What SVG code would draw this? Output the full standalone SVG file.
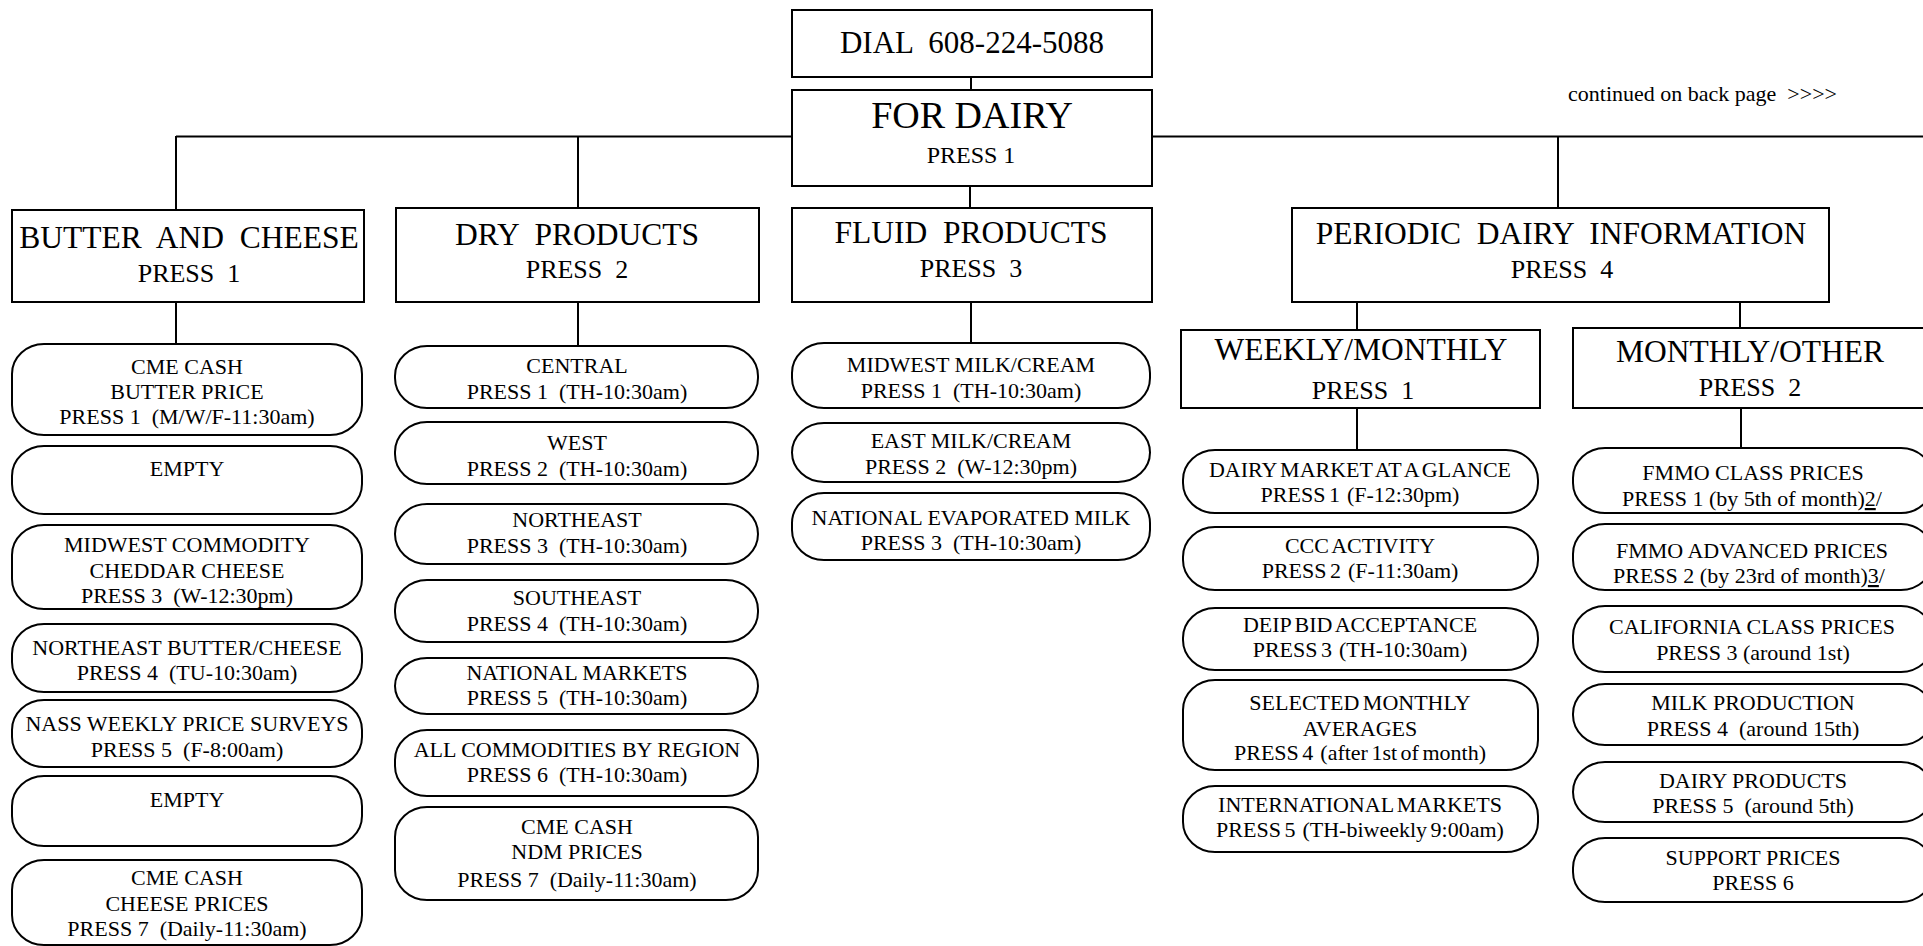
<svg xmlns="http://www.w3.org/2000/svg" width="1923" height="946" viewBox="0 0 1923 946">
<style>
text{font-family:"Liberation Serif","Times New Roman",serif;fill:#000;white-space:pre;text-anchor:middle}
.box{fill:#fff;stroke:#000;stroke-width:2}
.pill{fill:#fff;stroke:#000;stroke-width:2}
.h{font-size:31.5px}
.hs{font-size:26px}
.t{font-size:22px}
.wk{word-spacing:-2px}
#connectors line{stroke:#000;stroke-width:2}
</style>
<rect x="0" y="0" width="1923" height="946" fill="#fff"/>
<g id="connectors">
<line x1="971" y1="77" x2="971" y2="90"/>
<line x1="970" y1="186" x2="970" y2="208"/>
<line x1="176" y1="136.5" x2="792" y2="136.5"/>
<line x1="1152" y1="136.5" x2="1923" y2="136.5"/>
<line x1="176" y1="136" x2="176" y2="210"/>
<line x1="578" y1="136" x2="578" y2="208"/>
<line x1="1558" y1="136" x2="1558" y2="208"/>
<line x1="176" y1="302" x2="176" y2="344"/>
<line x1="578" y1="302" x2="578" y2="346"/>
<line x1="971" y1="302" x2="971" y2="343"/>
<line x1="1357" y1="302" x2="1357" y2="330"/>
<line x1="1740" y1="302" x2="1740" y2="328"/>
<line x1="1357" y1="408" x2="1357" y2="450"/>
<line x1="1741" y1="408" x2="1741" y2="448"/>
</g>
<g id="dial">
<rect class="box" x="792" y="10" width="360" height="67"/>
<text x="972" y="53" style="font-size:31px">DIAL  608-224-5088</text>
</g>
<g id="for-dairy">
<rect class="box" x="792" y="90" width="360" height="96"/>
<text x="972" y="128" style="font-size:38px">FOR DAIRY</text>
<text x="971" y="163" style="font-size:24px">PRESS 1</text>
</g>
<g id="continued">
<text x="1568" y="101" style="font-size:22px;text-anchor:start">continued on back page  &gt;&gt;&gt;&gt;</text>
</g>
<g id="butter-cheese">
<rect class="box" x="12" y="210" width="352" height="92"/>
<text class="h" x="189" y="248">BUTTER  AND  CHEESE</text>
<text class="hs" x="189" y="282">PRESS  1</text>
</g>
<g id="dry-products">
<rect class="box" x="396" y="208" width="363" height="94"/>
<text class="h" x="577" y="245">DRY  PRODUCTS</text>
<text class="hs" x="577" y="278">PRESS  2</text>
</g>
<g id="fluid-products">
<rect class="box" x="792" y="208" width="360" height="94"/>
<text class="h" x="971" y="243">FLUID  PRODUCTS</text>
<text class="hs" x="971" y="277">PRESS  3</text>
</g>
<g id="periodic">
<rect class="box" x="1292" y="208" width="537" height="94"/>
<text class="h" x="1561" y="244">PERIODIC  DAIRY  INFORMATION</text>
<text class="hs" x="1562" y="278">PRESS  4</text>
</g>
<g id="weekly-monthly">
<rect class="box" x="1181" y="330" width="359" height="78"/>
<text class="h" x="1361" y="360">WEEKLY/MONTHLY</text>
<text class="hs" x="1363" y="399">PRESS  1</text>
</g>
<g id="monthly-other">
<rect class="box" x="1573" y="328" width="353" height="80"/>
<text class="h" x="1750" y="362">MONTHLY/OTHER</text>
<text class="hs" x="1750" y="396">PRESS  2</text>
</g>

<g id="b1"><rect class="pill" x="12" y="344" width="350" height="91" rx="32" ry="30"/>
<text class="t" x="187" y="374">CME CASH</text><text class="t" x="187" y="399">BUTTER PRICE</text><text class="t" x="187" y="424">PRESS 1  (M/W/F-11:30am)</text></g>
<g id="b2"><rect class="pill" x="12" y="446" width="350" height="68" rx="32" ry="30"/>
<text class="t" x="187" y="476">EMPTY</text></g>
<g id="b3"><rect class="pill" x="12" y="525" width="350" height="84" rx="32" ry="30"/>
<text class="t" x="187" y="552">MIDWEST COMMODITY</text><text class="t" x="187" y="578">CHEDDAR CHEESE</text><text class="t" x="187" y="603">PRESS 3  (W-12:30pm)</text></g>
<g id="b4"><rect class="pill" x="12" y="624" width="350" height="68" rx="32" ry="30"/>
<text class="t" x="187" y="655">NORTHEAST BUTTER/CHEESE</text><text class="t" x="187" y="680">PRESS 4  (TU-10:30am)</text></g>
<g id="b5"><rect class="pill" x="12" y="700" width="350" height="67" rx="32" ry="30"/>
<text class="t" x="187" y="731">NASS WEEKLY PRICE SURVEYS</text><text class="t" x="187" y="757">PRESS 5  (F-8:00am)</text></g>
<g id="b6"><rect class="pill" x="12" y="776" width="350" height="70" rx="32" ry="30"/>
<text class="t" x="187" y="807">EMPTY</text></g>
<g id="b7"><rect class="pill" x="12" y="860" width="350" height="85" rx="32" ry="30"/>
<text class="t" x="187" y="885">CME CASH</text><text class="t" x="187" y="911">CHEESE PRICES</text><text class="t" x="187" y="936">PRESS 7  (Daily-11:30am)</text></g>

<g id="d1"><rect class="pill" x="395" y="346" width="363" height="62" rx="32" ry="30"/>
<text class="t" x="577" y="373">CENTRAL</text><text class="t" x="577" y="399">PRESS 1  (TH-10:30am)</text></g>
<g id="d2"><rect class="pill" x="395" y="422" width="363" height="62" rx="32" ry="30"/>
<text class="t" x="577" y="450">WEST</text><text class="t" x="577" y="476">PRESS 2  (TH-10:30am)</text></g>
<g id="d3"><rect class="pill" x="395" y="504" width="363" height="60" rx="32" ry="30"/>
<text class="t" x="577" y="527">NORTHEAST</text><text class="t" x="577" y="553">PRESS 3  (TH-10:30am)</text></g>
<g id="d4"><rect class="pill" x="395" y="580" width="363" height="62" rx="32" ry="30"/>
<text class="t" x="577" y="605">SOUTHEAST</text><text class="t" x="577" y="631">PRESS 4  (TH-10:30am)</text></g>
<g id="d5"><rect class="pill" x="395" y="658" width="363" height="56" rx="32" ry="28"/>
<text class="t" x="577" y="680">NATIONAL MARKETS</text><text class="t" x="577" y="705">PRESS 5  (TH-10:30am)</text></g>
<g id="d6"><rect class="pill" x="395" y="730" width="363" height="66" rx="32" ry="30"/>
<text class="t" x="577" y="757">ALL COMMODITIES BY REGION</text><text class="t" x="577" y="782">PRESS 6  (TH-10:30am)</text></g>
<g id="d7"><rect class="pill" x="395" y="807" width="363" height="93" rx="32" ry="30"/>
<text class="t" x="577" y="834">CME CASH</text><text class="t" x="577" y="859">NDM PRICES</text><text class="t" x="577" y="887">PRESS 7  (Daily-11:30am)</text></g>

<g id="f1"><rect class="pill" x="792" y="343" width="358" height="65" rx="32" ry="30"/>
<text class="t" x="971" y="372">MIDWEST MILK/CREAM</text><text class="t" x="971" y="398">PRESS 1  (TH-10:30am)</text></g>
<g id="f2"><rect class="pill" x="792" y="423" width="358" height="59" rx="32" ry="29.5"/>
<text class="t" x="971" y="448">EAST MILK/CREAM</text><text class="t" x="971" y="474">PRESS 2  (W-12:30pm)</text></g>
<g id="f3"><rect class="pill" x="792" y="493" width="358" height="67" rx="32" ry="30"/>
<text class="t" x="971" y="525">NATIONAL EVAPORATED MILK</text><text class="t" x="971" y="550">PRESS 3  (TH-10:30am)</text></g>

<g id="w1"><rect class="pill" x="1183" y="450" width="355" height="63" rx="32" ry="30"/>
<text class="t wk" x="1360" y="477">DAIRY MARKET AT A GLANCE</text><text class="t wk" x="1360" y="502">PRESS 1  (F-12:30pm)</text></g>
<g id="w2"><rect class="pill" x="1183" y="527" width="355" height="63" rx="32" ry="30"/>
<text class="t wk" x="1360" y="553">CCC ACTIVITY</text><text class="t wk" x="1360" y="578">PRESS 2  (F-11:30am)</text></g>
<g id="w3"><rect class="pill" x="1183" y="608" width="355" height="62" rx="32" ry="30"/>
<text class="t wk" x="1360" y="632">DEIP BID ACCEPTANCE</text><text class="t wk" x="1360" y="657">PRESS 3  (TH-10:30am)</text></g>
<g id="w4"><rect class="pill" x="1183" y="680" width="355" height="90" rx="32" ry="30"/>
<text class="t wk" x="1360" y="710">SELECTED MONTHLY</text><text class="t wk" x="1360" y="736">AVERAGES</text><text class="t wk" x="1360" y="760">PRESS 4  (after 1st of month)</text></g>
<g id="w5"><rect class="pill" x="1183" y="786" width="355" height="66" rx="32" ry="30"/>
<text class="t wk" x="1360" y="812">INTERNATIONAL MARKETS</text><text class="t wk" x="1360" y="837">PRESS 5  (TH-biweekly 9:00am)</text></g>

<g id="m1"><rect class="pill" x="1573" y="448" width="360" height="65" rx="32" ry="30"/>
<text class="t" x="1753" y="480">FMMO CLASS PRICES</text><text class="t" x="1752" y="506">PRESS 1 (by 5th of month)<tspan text-decoration="underline">2</tspan>/</text></g>
<g id="m2"><rect class="pill" x="1573" y="524" width="360" height="66" rx="32" ry="30"/>
<text class="t" x="1752" y="558">FMMO ADVANCED PRICES</text><text class="t" x="1749" y="583">PRESS 2 (by 23rd of month)<tspan text-decoration="underline">3</tspan>/</text></g>
<g id="m3"><rect class="pill" x="1573" y="606" width="360" height="66" rx="32" ry="30"/>
<text class="t" x="1752" y="634">CALIFORNIA CLASS PRICES</text><text class="t" x="1753" y="660">PRESS 3 (around 1st)</text></g>
<g id="m4"><rect class="pill" x="1573" y="684" width="360" height="61" rx="32" ry="30"/>
<text class="t" x="1753" y="710">MILK PRODUCTION</text><text class="t" x="1753" y="736">PRESS 4  (around 15th)</text></g>
<g id="m5"><rect class="pill" x="1573" y="762" width="360" height="60" rx="32" ry="30"/>
<text class="t" x="1753" y="788">DAIRY PRODUCTS</text><text class="t" x="1753" y="813">PRESS 5  (around 5th)</text></g>
<g id="m6"><rect class="pill" x="1573" y="838" width="360" height="64" rx="32" ry="30"/>
<text class="t" x="1753" y="865">SUPPORT PRICES</text><text class="t" x="1753" y="890">PRESS 6</text></g>
</svg>
